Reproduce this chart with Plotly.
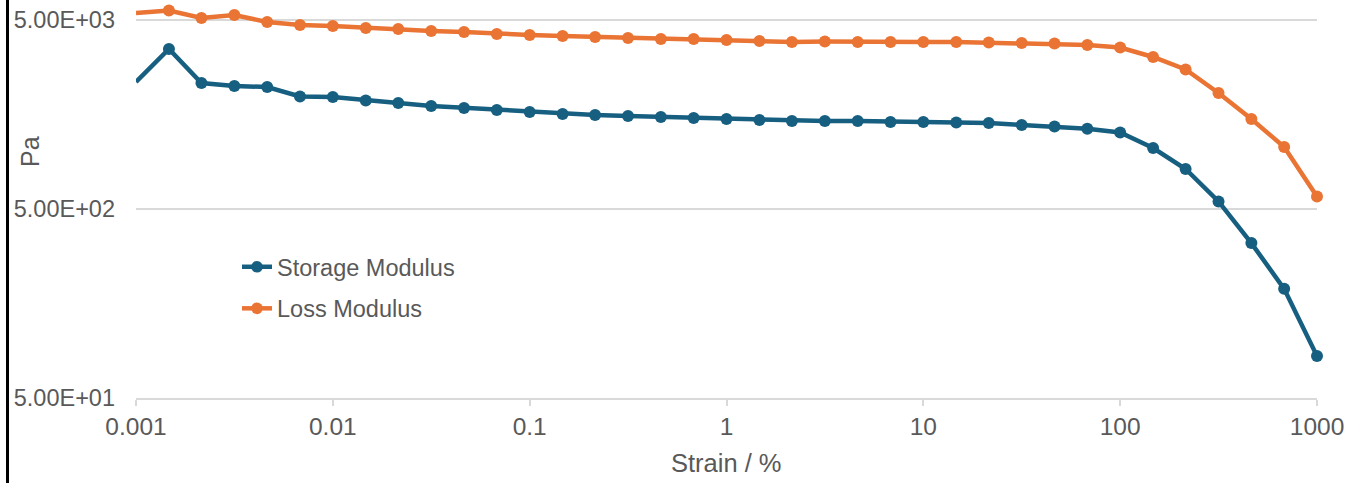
import numpy as np
import plotly.graph_objects as go

# Strain values (%), 6 points per decade from 0.001 to 1000
strain = [0.001, 0.00147, 0.00215, 0.00316, 0.00464, 0.00681,
          0.01, 0.0147, 0.0215, 0.0316, 0.0464, 0.0681,
          0.1, 0.147, 0.215, 0.316, 0.464, 0.681,
          1, 1.47, 2.15, 3.16, 4.64, 6.81,
          10, 14.7, 21.5, 31.6, 46.4, 68.1,
          100, 147, 215, 316, 464, 681, 1000]

storage_modulus = [2350, 3512, 2321, 2238, 2210, 1969,
                   1957, 1876, 1818, 1754, 1712, 1670,
                   1630, 1591, 1572, 1552, 1534, 1515,
                   1497, 1479, 1461, 1461, 1461, 1443,
                   1443, 1435, 1426, 1391, 1366, 1330,
                   1270, 1051, 814, 548, 330, 189, 83.4]

loss_modulus = [5445, 5610, 5123, 5315, 4880, 4705,
                4648, 4536, 4481, 4373, 4320, 4216,
                4164, 4114, 4064, 4015, 3967, 3967,
                3919, 3871, 3824, 3848, 3824, 3824,
                3824, 3824, 3801, 3778, 3755, 3687,
                3577, 3186, 2736, 2055, 1497, 1064, 582]

x_tickvals = [0.001, 0.01, 0.1, 1, 10, 100, 1000]
x_ticktext = ["0.001", "0.01", "0.1", "1", "10", "100", "1000"]
y_tickvals = [50, 500, 5000]
y_ticktext = ["5.00E+01", "5.00E+02", "5.00E+03"]

BLUE = "#175f81"
ORANGE = "#ea7434"
TXT = "#595959"
GRID = "#d9d9d9"
FONT = "Liberation Sans, Arial, sans-serif"

msizes = [0] + [12] * (len(strain) - 1)

fig = go.Figure()
fig.add_trace(go.Scatter(
    x=strain, y=storage_modulus, name="Storage Modulus", mode="lines+markers",
    line=dict(color=BLUE, width=4.5),
    marker=dict(color=BLUE, size=msizes, opacity=1, line=dict(width=0)),
    cliponaxis=False, legendgroup="a"))
fig.add_trace(go.Scatter(
    x=strain, y=loss_modulus, name="Loss Modulus", mode="lines+markers",
    line=dict(color=ORANGE, width=4.5),
    marker=dict(color=ORANGE, size=msizes, opacity=1, line=dict(width=0)),
    cliponaxis=False, legendgroup="b"))

W, H = 1358, 483
L, R, T, B = 136, 41, 0, 85
pw = W - L - R
ph = H - T - B

fig.update_layout(
    template="none",
    width=W, height=H,
    margin=dict(l=L, r=R, t=T, b=B, pad=0),
    paper_bgcolor="white", plot_bgcolor="white",
    font=dict(family=FONT, size=23, color=TXT),
    showlegend=True,
    legend=dict(x=(237 - L) / pw, y=(ph - 245) / ph, xanchor="left", yanchor="top",
                bgcolor="rgba(0,0,0,0)", borderwidth=0, font=dict(size=23.5, color=TXT),
                traceorder="grouped", tracegroupgap=8),
    xaxis=dict(type="log", range=[-3, 3], tickvals=x_tickvals, ticktext=x_ticktext,
               showgrid=False, zeroline=False, showline=True, linecolor=GRID, linewidth=1.5,
               ticks="outside", ticklen=6, tickcolor=GRID, tickwidth=1.5,
               tickfont=dict(size=24.5, color=TXT)),
    yaxis=dict(type="log", range=[np.log10(50), np.log10(5000) + 20 / 189],
               tickvals=y_tickvals, ticktext=y_ticktext,
               showgrid=True, gridcolor=GRID, gridwidth=1.5, zeroline=False,
               showline=False, ticks="", ticklabelstandoff=20,
               tickfont=dict(size=23.5, color=TXT)),
    shapes=[dict(type="line", xref="paper", yref="paper",
                 x0=(7.5 - L) / pw, x1=(7.5 - L) / pw, y0=-B / ph, y1=1.0,
                 line=dict(color="black", width=3))],
    annotations=[
        dict(text="Pa", xref="paper", yref="paper", x=(30 - L) / pw, y=(ph - 152) / ph,
             textangle=-90, showarrow=False, font=dict(size=25, color=TXT),
             xanchor="center", yanchor="middle"),
        dict(text="Strain / %", xref="paper", yref="paper", x=0.5, y=(ph - 463) / ph,
             showarrow=False, font=dict(size=25.5, color=TXT),
             xanchor="center", yanchor="middle"),
    ],
)

fig.write_html("out.html", config={"displayModeBar": False},
               post_script="document.body.style.margin='0';")
